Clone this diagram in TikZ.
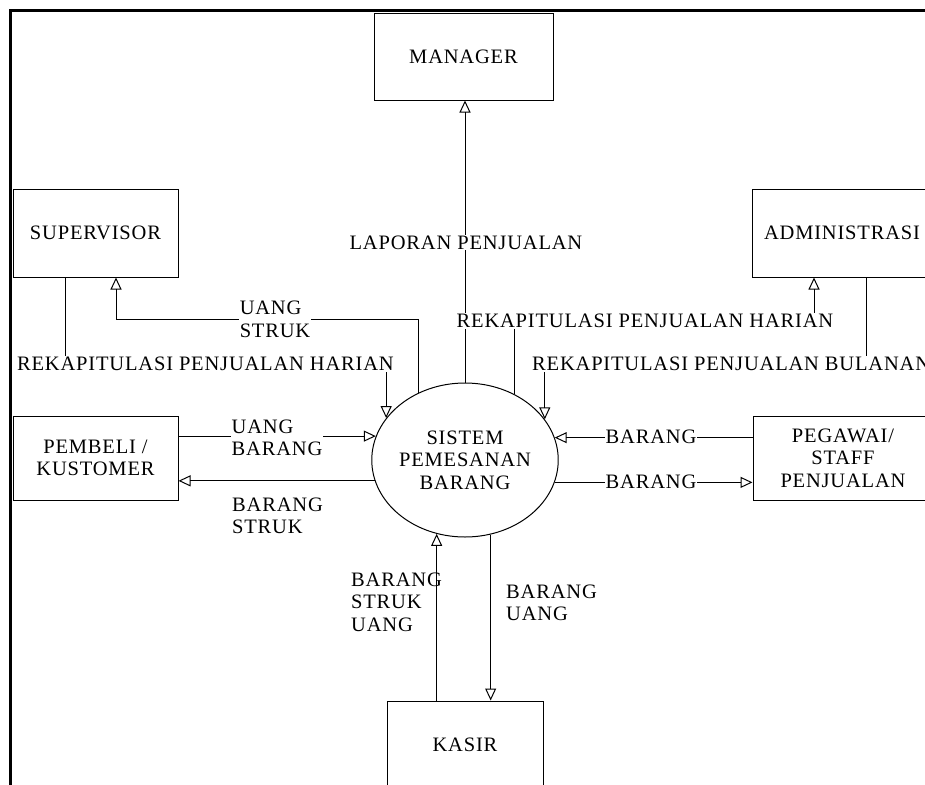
\documentclass[tikz,border=0pt]{standalone}
\usepackage{fontspec}
\setmainfont{Liberation Serif}[LetterSpace=4]
\usetikzlibrary{arrows.meta,shapes.geometric}
\begin{document}
\begin{tikzpicture}[x=1pt,y=-1pt,
  txt/.style={font=\fontsize{20.5}{22.5}\selectfont},
  entity/.style={draw,line width=1pt,txt,align=center,inner sep=0pt},
  flow/.style={line width=1pt,-{Triangle[open,length=12pt,width=11pt]}},
  lbl/.style={txt,fill=white,inner sep=1pt,align=left},
  note/.style={txt,inner sep=0pt,align=left}]
\useasboundingbox (0,0) rectangle (925,784);
\clip (0,0) rectangle (925,784);

% outer frame (top and left edges)
\coordinate (fBL) at (10,790);
\coordinate (fTL) at (10,11);
\coordinate (fTR) at (930,11);
\draw[line width=3pt] (fBL) -- (fTL) -- (fTR);

% external entities and the process
\node[entity,minimum width=179pt,minimum height=86pt] (mgr)   at (463.5,57) {MANAGER};
\node[entity,minimum width=165pt,minimum height=88pt] (sup)   at (95.5,233) {SUPERVISOR};
\node[entity,minimum width=180pt,minimum height=88pt] (adm)   at (842,233)  {ADMINISTRASI};
\node[entity,minimum width=165pt,minimum height=84pt] (cust)  at (95.5,458) {PEMBELI /\\KUSTOMER};
\node[entity,minimum width=180pt,minimum height=84pt] (staff) at (843,458)  {PEGAWAI/\\STAFF\\PENJUALAN};
\node[entity,minimum width=156pt,minimum height=88pt] (kasir) at (465,745)  {KASIR};
\node[entity,ellipse,minimum width=182pt,minimum height=154pt] (sys) at (465,460) {SISTEM\\PEMESANAN\\BARANG};

% levels of the bent flows
\coordinate (ySup) at (0,319);
\coordinate (yHL)  at (0,364);
\coordinate (yHR)  at (0,321);
\coordinate (supIn) at ([xshift=20.5pt]sup.south);
\coordinate (supOut) at ([xshift=-30.5pt]sup.south);
\coordinate (admIn) at ([xshift=-28pt]adm.south);
\coordinate (admOut) at ([xshift=24pt]adm.south);

% flows
\draw[flow] (sys.north) -- (sys.north |- mgr.south);
\draw[flow] (sys.125.5) |- (supIn |- ySup) -- (supIn);
\draw[flow] (supOut) |- (sys.152 |- yHL) -- (sys.152);
\draw[flow] (sys.53.7) |- (admIn |- yHR) -- (admIn);
\draw[flow] (admOut) |- (sys.27 |- yHL) -- (sys.27);
\draw[flow] (cust.east |- sys.165.8) -- (sys.165.8);
\draw[flow] (sys.193.5) -- (sys.193.5 -| cust.east);
\draw[flow] (staff.west |- sys.14.8) -- (sys.14.8);
\draw[flow] (sys.-14.2) -- (sys.-14.2 -| staff.west);
\draw[flow] (kasir.north -| sys.249.8) -- (sys.249.8);
\draw[flow] (sys.-71.3) -- (sys.-71.3 |- kasir.north);

% flow labels
\node[lbl] (tLap)  at (466,242.5) {LAPORAN PENJUALAN};
\node[lbl] (tSup)  at (275,319.5) {UANG\\STRUK};
\node[lbl] (tHL)   at (205.5,364) {REKAPITULASI PENJUALAN HARIAN};
\node[lbl] (tHR)   at (645,321)   {REKAPITULASI PENJUALAN HARIAN};
\node[lbl,anchor=west] (tBul) at (531,364) {REKAPITULASI PENJUALAN BULANAN};
\node[lbl] (tCin)  at (277,438)   {UANG\\BARANG};
\node[note,anchor=west] (tCout) at (232,516) {BARANG\\STRUK};
\node[lbl] (tSin)  at (651,437)   {BARANG};
\node[lbl] (tSout) at (651,482)   {BARANG};
\node[note,anchor=west] (tKup) at (351,602) {BARANG\\STRUK\\UANG};
\node[note,anchor=west] (tKdn) at (506,603) {BARANG\\UANG};
\end{tikzpicture}
\end{document}
